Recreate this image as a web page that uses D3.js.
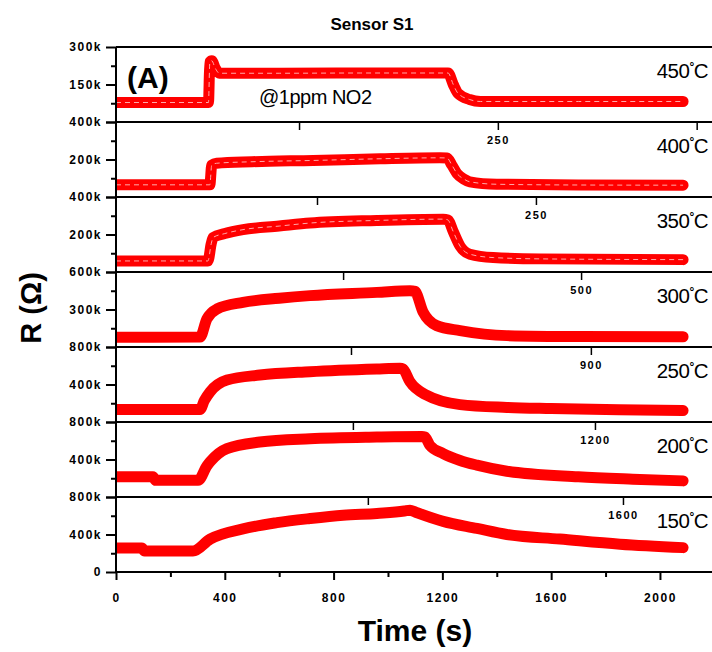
<!DOCTYPE html>
<html>
<head>
<meta charset="utf-8">
<script src="https://cdn.jsdelivr.net/npm/d3@7"></script>
<style>
  body { margin: 0; background: #fff; }
  svg { display: block; }
  text { font-family: "Liberation Sans", Arial, sans-serif; }
</style>
</head>
<body>
<div id="chart"></div>
<script>
// temperatures, top to bottom
const temps = ["450", "400", "350", "300", "250", "200", "150"];
// y range of each panel (kOhm)
const yMax = [300, 400, 400, 600, 800, 800, 800];

// resistance traces, time in s, R in kOhm
const t450 = [0, 340, 345, 352, 365, 380, 600, 900, 1221, 1240, 1257, 1300, 1340, 1700, 2085];
const r450 = [78, 78, 240, 245, 215, 195, 195, 196, 196, 150, 115, 90, 82, 82, 82];
const t400 = [0, 345, 352, 370, 500, 725, 971, 1191, 1217, 1235, 1254, 1280, 1301, 1400, 1700, 2085];
const r400 = [65, 65, 170, 180, 188, 195, 204, 209, 208, 170, 125, 95, 81, 68, 64, 63];
const t350 = [0, 338, 350, 357, 400, 467, 600, 713, 959, 1203, 1220, 1240, 1265, 1301, 1387, 1560, 2085];
const r350 = [59, 59, 150, 184, 205, 226, 245, 261, 275, 282, 278, 215, 138, 95, 77, 70, 66];
const t300 = [0, 309, 334, 371, 467, 600, 713, 959, 1081, 1099, 1129, 1179, 1265, 1437, 1700, 2085];
const r300 = [78, 80, 224, 304, 357, 390, 411, 437, 451, 445, 280, 171, 131, 91, 84, 82];
const t250 = [0, 309, 325, 346, 408, 529, 713, 959, 1044, 1055, 1081, 1143, 1265, 1437, 1600, 1850, 2085];
const r250 = [133, 133, 230, 321, 447, 501, 537, 566, 573, 565, 429, 285, 185, 155, 143, 130, 122];
const t200 = [0, 136, 146, 302, 334, 346, 408, 529, 713, 959, 1125, 1136, 1154, 1203, 1265, 1327, 1437, 1700, 1900, 2085];
const r200 = [215, 215, 178, 178, 330, 375, 516, 586, 621, 639, 645, 640, 551, 463, 390, 340, 275, 215, 190, 172];
const t150 = [0, 95, 105, 283, 346, 467, 592, 713, 835, 959, 1060, 1081, 1100, 1203, 1327, 1437, 1632, 1853, 2085];
const r150 = [255, 255, 224, 224, 351, 460, 526, 570, 606, 625, 650, 660, 640, 540, 465, 400, 351, 296, 260];

// leftover axis ticks at the top of panels 2..7 (value, and where half / full value sit on the time axis)
const strayValue = [250, 250, 500, 900, 1200, 1600];
const strayHalfT = [673, 739, 835, 864, 871, 926];
const strayFullT = [1404, 1544, 1710, 1746, 1761, 1864];

const xTicks = [0, 400, 800, 1200, 1600, 2000];
const xMinor = [200, 600, 1000, 1400, 1800];

const traces = [[t450, r450], [t400, r400], [t350, r350], [t300, r300], [t250, r250], [t200, r200], [t150, r150]];

const width = 712, height = 652;
const plotLeft = 116, plotRight = 710, plotTop = 47, plotBottom = 572;

const svg = d3.select("#chart").append("svg")
    .attr("width", width)
    .attr("height", height);

const x = d3.scaleLinear().domain([0, 2184]).range([plotLeft, plotRight]);
const band = d3.scaleBand().domain(temps).range([plotTop, plotBottom]);

svg.append("clipPath").attr("id", "plot-clip")
    .append("rect")
    .attr("x", plotLeft + 1).attr("y", plotTop - 10)
    .attr("width", width - plotLeft).attr("height", plotBottom - plotTop + 20);

temps.forEach((temp, i) => {
    const y0 = band(temp);
    const h = band.bandwidth();
    const m = yMax[i];
    const y = d3.scaleLinear().domain([0, m]).range([y0 + h, y0]);

    // curve
    const [tt, rr] = traces[i];
    const pts = tt.map((t, k) => [t, rr[k]]);
    const line = d3.line().x(d => x(d[0])).y(d => y(d[1])).curve(d3.curveMonotoneX);

    const g = svg.append("g").attr("clip-path", "url(#plot-clip)");
    g.append("path")
        .attr("d", line(pts))
        .attr("fill", "none")
        .attr("stroke", "#ff0000")
        .attr("stroke-width", 11)
        .attr("stroke-linejoin", "round")
        .attr("stroke-linecap", "round");
    if (i < 3) {
        g.append("path")
            .attr("d", line(pts))
            .attr("fill", "none")
            .attr("stroke", "#ffa8a8")
            .attr("stroke-width", 1)
            .attr("stroke-dasharray", "5,4");
    }

    // y axis, major and minor ticks
    const fmt = v => v === 0 ? (i === temps.length - 1 ? "0" : "") : v + "k";
    svg.append("g")
        .attr("transform", `translate(${plotLeft},0)`)
        .call(d3.axisLeft(y).tickValues([0, m / 2, m])
            .tickSize(10).tickPadding(4).tickFormat(fmt))
        .call(a => a.select(".domain").remove())
        .call(a => a.selectAll("line").attr("stroke-width", 2))
        .call(a => a.selectAll("text")
            .attr("font-size", 12).attr("font-weight", "bold")
            .attr("letter-spacing", 1.5).attr("fill", "#000"));
    svg.append("g")
        .attr("transform", `translate(${plotLeft},0)`)
        .call(d3.axisLeft(y).tickValues([m / 4, 3 * m / 4])
            .tickSize(5).tickFormat(""))
        .call(a => a.select(".domain").remove())
        .call(a => a.selectAll("line").attr("stroke-width", 2));

    // stray ticks hanging from the panel top
    if (i > 0) {
        const v = strayValue[i - 1];
        const sx = d3.scaleLinear().domain([v / 2, v])
            .range([x(strayHalfT[i - 1]), x(strayFullT[i - 1])]);
        const vals = [v / 2, v, 1.5 * v].filter(d => sx(d) <= plotRight);
        svg.append("g")
            .attr("transform", `translate(0,${y0})`)
            .call(d3.axisBottom(sx).tickValues(vals).tickSize(8).tickPadding(6)
                .tickFormat(d => d === v ? String(d) : ""))
            .call(a => a.select(".domain").remove())
            .call(a => a.selectAll("line").attr("stroke-width", 1.5))
            .call(a => a.selectAll("text")
                .attr("font-size", 11).attr("font-weight", "bold")
                .attr("letter-spacing", 1.5).attr("fill", "#000"));
    }

    // temperature label
    const lab = svg.append("text")
        .attr("x", 708).attr("y", y0 + 31)
        .attr("text-anchor", "end")
        .attr("font-size", 20.5)
        .attr("letter-spacing", -0.5);
    lab.append("tspan").text(temp);
    lab.append("tspan").attr("font-size", 12).attr("font-weight", "bold").attr("dy", -7).text("°");
    lab.append("tspan").attr("dy", 7).text("C");
});

// panel separators and left axis line
const bounds = temps.map(t => band(t)).concat([plotBottom]);
svg.append("g").selectAll("line")
    .data(bounds)
    .join("line")
    .attr("x1", plotLeft).attr("x2", width)
    .attr("y1", d => d).attr("y2", d => d)
    .attr("stroke", "#000").attr("stroke-width", 2);
svg.append("line")
    .attr("x1", plotLeft).attr("x2", plotLeft)
    .attr("y1", plotTop).attr("y2", plotBottom + 1)
    .attr("stroke", "#000").attr("stroke-width", 2);

// bottom time axis
svg.append("g")
    .attr("transform", `translate(0,${plotBottom})`)
    .call(d3.axisBottom(x).tickValues(xTicks).tickSize(8).tickPadding(13).tickFormat(d => String(d)))
    .call(a => a.select(".domain").remove())
    .call(a => a.selectAll("line").attr("stroke-width", 2))
    .call(a => a.selectAll("text")
        .attr("font-size", 12).attr("font-weight", "bold")
        .attr("letter-spacing", 1.5).attr("fill", "#000"));
svg.append("g")
    .attr("transform", `translate(0,${plotBottom})`)
    .call(d3.axisBottom(x).tickValues(xMinor).tickSize(5).tickFormat(""))
    .call(a => a.select(".domain").remove())
    .call(a => a.selectAll("line").attr("stroke-width", 2));

// titles and annotations
svg.append("text")
    .attr("x", 372).attr("y", 30)
    .attr("text-anchor", "middle")
    .attr("font-size", 17).attr("font-weight", "bold")
    .text("Sensor S1");

svg.append("text")
    .attr("x", 127).attr("y", 88)
    .attr("font-size", 30).attr("font-weight", "bold")
    .text("(A)");

svg.append("text")
    .attr("x", 259).attr("y", 104)
    .attr("font-size", 20).attr("letter-spacing", -0.5)
    .text("@1ppm NO2");

svg.append("text")
    .attr("transform", "translate(41,308) rotate(-90)")
    .attr("text-anchor", "middle")
    .attr("font-size", 29).attr("font-weight", "bold")
    .text("R (Ω)");

svg.append("text")
    .attr("x", 415).attr("y", 641)
    .attr("text-anchor", "middle")
    .attr("font-size", 30).attr("font-weight", "bold")
    .text("Time (s)");
</script>
</body>
</html>
